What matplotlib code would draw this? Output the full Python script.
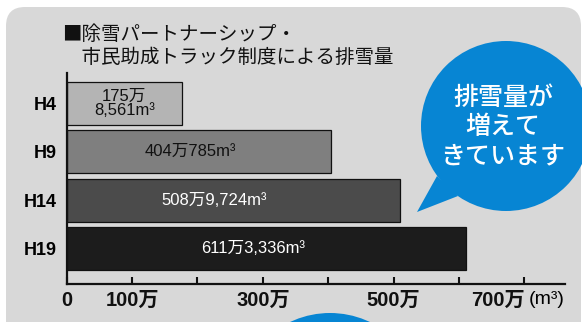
import matplotlib
matplotlib.use("Agg")
import matplotlib.pyplot as plt
from matplotlib.patches import FancyBboxPatch, Circle, Polygon

# Daten: Abfuhrmenge Schnee (m3)
jahre = ['H4', 'H9', 'H14', 'H19']
mengen = [1758561, 4040785, 5089724, 6113336]
beschriftung = ['175万\n8,561m³', '404万785m³', '508万9,724m³', '611万3,336m³']
tick_werte = [0, 100, 200, 300, 400, 500, 600, 700]
tick_texte = ['0', '100万', '', '300万', '', '500万', '', '700万']

# Stil
balken_farben = ['#b4b4b4', '#7f7f7f', '#4b4b4b', '#1c1c1c']
text_farben = ['#111111', '#111111', 'white', 'white']
label_anteil = [0.5, 0.467, 0.442, 0.466]
grau = '#d8d8d8'
blau = '#0785d3'
zahl_font = ['Liberation Sans', 'Noto Sans CJK JP']
jp_font = ['Noto Sans CJK JP', 'DejaVu Sans']

W, H = 582, 322
fig = plt.figure(figsize=(W / 100, H / 100), dpi=100)
fig.patch.set_facecolor('white')

# Hintergrund in Pixelkoordinaten
bg = fig.add_axes([0, 0, 1, 1], zorder=0)
bg.set_xlim(0, W)
bg.set_ylim(H, 0)
bg.axis('off')
bg.add_patch(FancyBboxPatch((6, 7), 575, 340, boxstyle='round,pad=0,rounding_size=19',
                            fc=grau, ec='none'))

# Sprechblase
bg.add_patch(Circle((506, 126), 85, fc=blau, ec='none'))
bg.add_patch(Polygon([(437, 176), (417, 212), (458, 196)], closed=True, fc=blau, ec='none'))
bg.text(503, 127, '排雪量が\n増えて\nきています', color='white', fontsize=18,
        family=jp_font, weight='medium', ha='center', va='center', linespacing=1.15)
bg.add_patch(Circle((330, 406), 93, fc=blau, ec='none'))

# Titel
bg.text(62, 46, '■除雪パートナーシップ・\n\u3000市民助成トラック制度による排雪量', fontsize=14,
        family=jp_font, weight='normal', ha='left', va='center', linespacing=1.15, color='#111111')

# Balkendiagramm
ax = fig.add_axes([66.7 / W, (H - 284) / H, (565 - 66.7) / W, (284 - 73) / H], zorder=1)
ax.patch.set_alpha(0)

werte = [m / 1e4 for m in mengen]
pos = list(range(len(jahre)))
ax.barh(pos, werte, height=0.887, color=balken_farben, edgecolor='#111111', linewidth=0.9)

for i, (w, t) in enumerate(zip(werte, beschriftung)):
    ax.text(w * label_anteil[i], i, t, color=text_farben[i], fontsize=12,
            family=zahl_font, ha='center', va='center', linespacing=0.95)

ax.set_xlim(0, 762)
ax.set_ylim(3.73, -0.62)
ax.set_yticks(pos)
ax.set_yticklabels(jahre, fontsize=13, weight='bold', family=zahl_font)
ax.tick_params(axis='y', length=0, pad=7)

ax.set_xticks(tick_werte)
ax.set_xticklabels(tick_texte, fontsize=14.5, weight='bold', family=zahl_font)
ax.get_xticklabels()[-1].set_ha('right')
ax.tick_params(axis='x', direction='in', length=5, width=1.5, pad=5, colors='#111111')
ax.text(1.0, -0.075, '(m³)', transform=ax.transAxes, fontsize=14, family=zahl_font,
        ha='right', va='center')

for s in ['top', 'right']:
    ax.spines[s].set_visible(False)
for s in ['left', 'bottom']:
    ax.spines[s].set_linewidth(1.6)
    ax.spines[s].set_color('#111111')

fig.savefig('out.png', dpi=100)
